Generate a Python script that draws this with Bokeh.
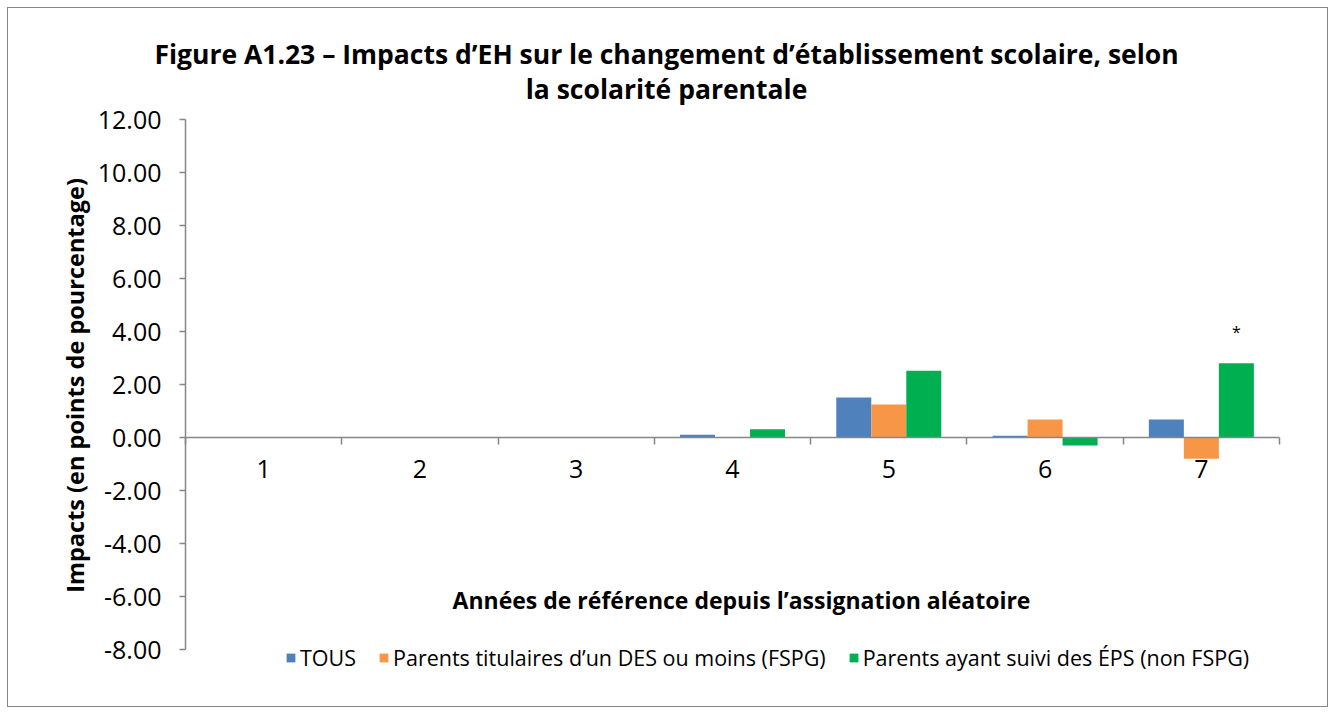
import math
from bokeh.plotting import figure
from bokeh.models import (Range1d, LinearAxis, FixedTicker,
                          NumeralTickFormatter, Label, Legend, LegendItem,
                          ColumnDataSource)
from bokeh.transform import dodge
from bokeh.core.properties import value
from bokeh.embed import file_html
from bokeh.resources import INLINE

# ---------------- data ----------------
years = ["1", "2", "3", "4", "5", "6", "7"]
tous = [0.0, 0.0, 0.0, 0.10, 1.51, 0.07, 0.68]
fspg = [0.0, 0.0, 0.0, 0.0, 1.25, 0.68, -0.80]
non_fspg = [0.0, 0.0, 0.0, 0.31, 2.52, -0.30, 2.80]
signif = ["", "", "", "", "", "", "*"]
series_names = ["TOUS",
                "Parents titulaires d’un DES ou moins (FSPG)",
                "Parents ayant suivi des ÉPS (non FSPG)"]
colors = ["#4F81BD", "#F79646", "#00B050"]
y_ticks = [-8, -6, -4, -2, 0, 2, 4, 6, 8, 10, 12]
title_lines = ["Figure A1.23 – Impacts d’EH sur le changement d’établissement scolaire, selon",
               "la scolarité parentale"]
x_title = "Années de référence depuis l’assignation aléatoire"
y_title = "Impacts (en points de pourcentage)"

FONT = "Open Sans"
AXIS_COL = "#868686"

# layout (pixels)
W_FIG, H_FIG = 1321, 700
PLOT_W, PLOT_H = 1094, 530        # size of the axis spans
LEFT_PAD, RIGHT_PAD = 177, 50     # room left / right of the category span
TOP_PAD, BOT_PAD = 111, 59        # room above / below the -8..12 span
n = len(years)
px_per_cat = PLOT_W / n
px_per_unit = PLOT_H / (y_ticks[-1] - y_ticks[0])

centers = [i + 0.5 for i in range(n)]   # category centres on a 0..n axis
src = ColumnDataSource(dict(xc=centers, tous=tous, fspg=fspg, non_fspg=non_fspg, sig=signif))

p = figure(width=W_FIG, height=H_FIG,
           x_range=Range1d(0 - LEFT_PAD / px_per_cat, n + RIGHT_PAD / px_per_cat),
           y_range=Range1d(y_ticks[0] - BOT_PAD / px_per_unit,
                           y_ticks[-1] + TOP_PAD / px_per_unit),
           x_axis_location=None, y_axis_location=None,
           output_backend="svg", toolbar_location=None,
           min_border_left=0, min_border_right=0,
           min_border_top=0, min_border_bottom=0)
p.styles = {"border": "1px solid #868686", "margin": "7px 0 0 7px"}
p.xgrid.visible = False
p.ygrid.visible = False
p.outline_line_color = None
p.background_fill_color = "white"
p.border_fill_color = "white"

# bars
W = 0.224
keys = ["tous", "fspg", "non_fspg"]
offsets = [-W, 0.0, W]
renderers = []
for k, off, c in zip(keys, offsets, colors):
    r = p.vbar(x=dodge("xc", off), top=k, bottom=0, width=W,
               source=src, fill_color=c, line_color=None)
    renderers.append(r)

# significance marker
p.text(x=dodge("xc", W), y="non_fspg", text="sig", source=src,
       text_font=value(FONT), text_font_size="16px", text_align="center",
       text_baseline="alphabetic", y_offset=-31, text_color="black")

# y axis, fixed at the first category boundary
ya = LinearAxis(ticker=FixedTicker(ticks=y_ticks),
                formatter=NumeralTickFormatter(format="0.00"),
                bounds=(y_ticks[0], y_ticks[-1]), fixed_location=0)
ya.axis_line_color = AXIS_COL
ya.axis_line_width = 1.5
ya.major_tick_line_color = AXIS_COL
ya.major_tick_line_width = 1.5
ya.major_tick_out = 6
ya.major_tick_in = 0
ya.minor_tick_line_color = None
ya.major_label_text_font = FONT
ya.major_label_text_font_size = "25px"
ya.major_label_text_color = "black"
ya.major_label_standoff = 18
p.add_layout(ya, "left")

# x axis at zero, ticks at category boundaries
xa = LinearAxis(ticker=FixedTicker(ticks=centers, minor_ticks=list(range(n + 1))),
                major_label_overrides={c: y for c, y in zip(centers, years)},
                bounds=(0, n), fixed_location=0)
xa.axis_line_color = AXIS_COL
xa.axis_line_width = 1.5
xa.major_tick_line_color = None
xa.minor_tick_line_color = AXIS_COL
xa.minor_tick_line_width = 1.5
xa.minor_tick_out = 7
xa.minor_tick_in = 0
xa.major_label_text_font = FONT
xa.major_label_text_font_size = "25px"
xa.major_label_text_color = "black"
xa.major_label_standoff = 15
p.add_layout(xa, "below")

# titles (screen units, from the frame's bottom-left corner)
for line, ys in zip(title_lines, [655, 620]):
    p.add_layout(Label(x=658, y=ys, x_units="screen", y_units="screen", text=line,
                       text_font=FONT, text_font_size="26.5px", text_font_style="bold",
                       text_align="center", text_baseline="alphabetic", text_color="black"))

# axis titles
p.add_layout(Label(x=733, y=109, x_units="screen", y_units="screen", text=x_title,
                   text_font=FONT, text_font_size="23px", text_font_style="bold",
                   text_align="center", text_baseline="alphabetic", text_color="black"))
p.add_layout(Label(x=66, y=323, x_units="screen", y_units="screen", text=y_title,
                   angle=math.pi / 2,
                   text_font=FONT, text_font_size="23.5px", text_font_style="bold",
                   text_align="center", text_baseline="middle", text_color="black"))

# legend below the axis span
legend = Legend(items=[LegendItem(label=nm, renderers=[r]) for nm, r in zip(series_names, renderers)],
                orientation="horizontal", location=(277, 36),
                background_fill_alpha=0, border_line_color=None,
                padding=0, margin=0, spacing=22,
                glyph_width=11, glyph_height=11, label_standoff=4,
                label_text_font=FONT, label_text_font_size="21.5px",
                label_text_color="black", label_height=24)
p.add_layout(legend, "center")

open("out.html", "w").write(file_html(p, INLINE))
